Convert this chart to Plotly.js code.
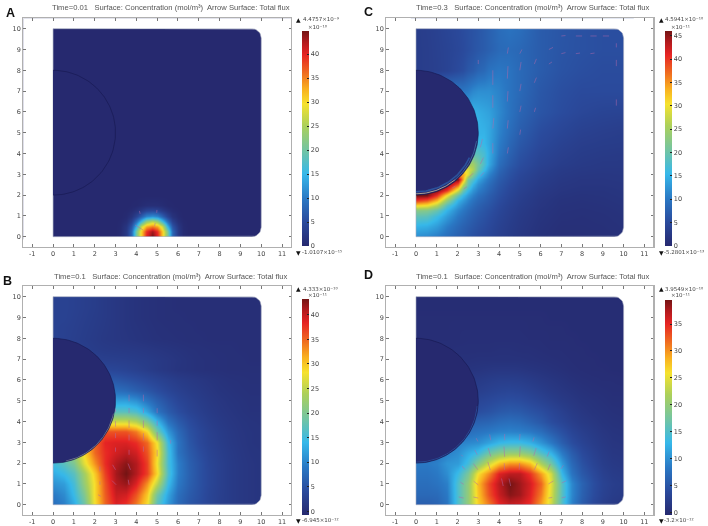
<!DOCTYPE html>
<html><head><meta charset="utf-8">
<script src="https://cdn.plot.ly/plotly-3.0.1.min.js"></script>
<style>html,body{margin:0;padding:0;background:#fff}#g{width:708px;height:526px;filter:blur(0.35px)}</style>
</head><body><div id="g"></div>
<script>
// ---------- values ----------
const ticksX=[-1,0,1,2,3,4,5,6,7,8,9,10,11];
const ticksY=[0,1,2,3,4,5,6,7,8,9,10];
const grid05=[0,.5,1,1.5,2,2.5,3,3.5,4,4.5,5,5.5,6,6.5,7,7.5,8,8.5,9,9.5,10];

const titles={A:'Time=0.01',B:'Time=0.1',C:'Time=0.3',D:'Time=0.1'};
const maxLabels={A:'4.4757×10⁻⁹',B:'4.333×10⁻¹⁰',C:'4.5941×10⁻¹⁰',D:'3.9549×10⁻¹⁰'};
const minLabels={A:'-1.0107×10⁻¹⁵',B:'-6.945×10⁻¹²',C:'-5.2801×10⁻¹³',D:'-3.2×10⁻¹²'};
const expLabels={A:'×10⁻¹⁰',B:'×10⁻¹¹',C:'×10⁻¹¹',D:'×10⁻¹¹'};

const xA=[0,3,3.25,3.5,3.75,4,4.25,4.5,4.75,5,5.25,5.5,5.75,6,6.25,6.5,10];
const yA=[0,.25,.5,.75,1,1.25,1.5,2,10];
const zA=[
[0,0,.5,2.5,8,21,31,40,44.7,40,31,21,8,2.5,.5,0,0],
[0,0,.5,2.5,8,21,31,39,43,39,31,21,8,2.5,.5,0,0],
[0,0,.4,2,6,15,27,33,35,33,27,15,6,2,.4,0,0],
[0,0,.2,1,3.5,9,16,23,26,23,16,9,3.5,1,.2,0,0],
[0,0,0,.4,1.5,4,7.5,11,12,11,7.5,4,1.5,.4,0,0,0],
[0,0,0,.1,.5,1.3,2.5,4,4.5,4,2.5,1.3,.5,.1,0,0,0],
[0,0,0,0,.1,.2,.6,.9,1,.9,.6,.2,.1,0,0,0,0],
[0,0,0,0,0,0,0,0,0,0,0,0,0,0,0,0,0],
[0,0,0,0,0,0,0,0,0,0,0,0,0,0,0,0,0]];

const zB=[
[8,9.5,13,18.5,28.6,35,39,37.7,34,28.6,17,11.5,7.5,5.5,4.5,3.5,2.5,2,1.5,1.2,1],
[9,10.5,14.5,20,29,35.5,40,39.5,36,30,19,12.5,8,6,4.8,3.5,2.6,2,1.5,1.2,1],
[11,12,15.5,22,29,36,41,42,39,33,25,14.5,9,6.5,5,3.7,2.7,2,1.5,1.2,1],
[13,14.5,17,23,30,37,41.5,43.3,41,37,29,16,9.5,6.7,5,3.7,2.7,2,1.5,1.2,1],
[15,17,20,27,33,38,41,42.5,41,37,28,15.5,9.5,6.5,5,3.6,2.7,2,1.5,1.2,1],
[17,19,23,29,35,38,39.5,40.5,39.5,36,29,15.5,8.5,6,4.5,3.3,2.5,1.9,1.4,1.1,1],
[17,19,24,30,35,38.5,39,39,38,35,28,14.5,8.5,5.5,4,3,2.3,1.7,1.3,1,.9],
[30,30,30,30,32,36,36,36,34,29,19,11.5,7.5,5,3.8,2.8,2.1,1.6,1.2,1,.9],
[24,24,24,24,24,26,26,26,24.5,20,14,8.5,6,4.3,3.2,2.4,1.8,1.4,1.1,.9,.8],
[16,16,16,16,16,16.5,17,17,16,12.5,8.5,6,4.5,3.3,2.6,2,1.5,1.2,.9,.7,.7],
[11,11,11,11,11,11.5,12,12,11,8.5,6.5,4.8,3.6,2.8,2.2,1.7,1.3,1,.8,.6,.6],
[7,7,7,7,7.5,7.5,8,7.5,6.5,5.5,4.5,3.5,2.8,2.2,1.8,1.4,1,.8,.6,.5,.5],
[5.5,5.5,5.5,5.5,5.5,5.5,5.5,5,4.5,3.8,3.2,2.6,2.1,1.7,1.4,1.1,.8,.6,.5,.4,.4],
[3.6,3.6,3.6,3.6,3.6,3.6,3.5,3.2,2.8,2.3,1.8,1.4,1,.8,.6,.5,.4,.3,.3,.3,.3],
[3,3,3,3,2.8,2.6,2.5,2.4,2.2,2,1.7,1.4,1.1,.8,.6,.5,.4,.3,.3,.2,.2],
[3,2.9,2.7,2.4,2.1,1.9,1.8,1.7,1.6,1.4,1.2,1,.8,.6,.5,.4,.3,.3,.2,.2,.2],
[3,2.8,2.5,2.2,1.9,1.6,1.4,1.2,1,.8,.6,.5,.4,.3,.3,.2,.2,.2,.2,.2,.2],
[3,2.8,2.6,2.3,2,1.7,1.4,1.1,.9,.7,.5,.4,.3,.3,.2,.2,.2,.2,.2,.2,.2],
[3,3,2.7,2.4,2.1,1.8,1.4,1.1,.8,.6,.4,.3,.3,.2,.2,.2,.2,.2,.2,.2,.2],
[3,3,2.8,2.5,2.2,1.8,1.4,1.1,.8,.6,.4,.3,.2,.2,.2,.2,.2,.2,.2,.2,.2],
[3,3,2.8,2.5,2.2,1.8,1.4,1.1,.8,.6,.4,.3,.2,.2,.2,.2,.2,.2,.2,.2,.2]];

const xC=[0,.5,1,1.5,2,2.25,2.5,2.75,3,3.25,3.5,4,4.5,5,6,7,8,9,10];
const yC=[0,.5,1,1.25,1.5,1.75,2,2.25,2.5,2.75,3,3.25,3.5,4,4.5,5,5.5,6,7,8,9,10];
const zC=[
[12,11.5,10.5,9,7.5,7,6.3,5.7,5.2,4.8,4.4,3.5,2.8,2.2,1.3,.9,.9,1,1.2],
[15,14.5,13,10.5,8.5,7.7,7,6.4,5.8,5.3,4.8,3.8,3,2.4,1.5,1,1,1.1,1.3],
[19,18.5,16,13,10,9,8,7.2,6.5,5.9,5.3,4.2,3.3,2.6,1.7,1.2,1.1,1.2,1.4],
[22.5,22,19.5,15,11.2,10,8.8,7.8,7,6.3,5.7,4.5,3.5,2.8,1.8,1.3,1.2,1.3,1.5],
[31,30,26,18,13,11.2,9.8,8.6,7.6,6.8,6.2,4.8,3.7,3,2,1.4,1.3,1.4,1.6],
[40,38,33,23.5,15,13,11,9.5,8.3,7.5,6.7,5.2,4,3.2,2.1,1.5,1.4,1.5,1.7],
[46,46,40,30,19.5,15.5,12.8,10.8,9.2,8.2,7.2,5.6,4.3,3.4,2.3,1.7,1.5,1.6,1.8],
[46,46,46,40,28,20,15.5,12.5,10.5,9.2,8,6,4.6,3.7,2.5,1.9,1.7,1.7,1.9],
[46,46,46,46,38,27,19.5,15,12,10.2,8.8,6.5,5,4,2.8,2.1,1.9,1.9,2],
[46,46,46,46,46,34,21,18,14,11.5,9.7,7,5.4,4.3,3,2.3,2,2,2.1],
[34,34,34,34,34,34,29,22,17,13.5,11,7.6,5.8,4.6,3.2,2.5,2.2,2.1,2.2],
[29,29,29,29,29,29,29,26,20,16,12.5,8.3,6.2,5,3.5,2.7,2.4,2.3,2.3],
[25,25,25,25,25,25,25,25,21,17.5,14,9,6.8,5.4,3.8,3,2.6,2.4,2.4],
[18.5,18.5,18.5,18.5,18.5,18.5,18.5,18.5,18.5,17,14.5,10,7.6,6,4.3,3.4,2.9,2.7,2.6],
[16,16,16,16,16,16,16,16,16,15.5,14,10.5,8.2,6.6,4.8,3.8,3.2,3,2.9],
[15,15,15,15,15,15,15,15,15,15,14,11,8.8,7.2,5.2,4.3,3.6,3.3,3.1],
[15,15,15,15,15,15,15,15,15,14.5,14,11.2,9.2,7.6,5.7,4.7,4,3.7,3.5],
[14.5,14.5,14.5,14.5,14.5,14.5,14.5,15,14.5,14,13.5,11.5,9.5,8,6.2,5.2,4.5,4.1,4],
[10,10,10,10,10,10,10.5,11.5,12,12,12,11,9.5,8.5,6.5,5.5,5,5,5],
[3,3.2,3.5,4,5,5.5,6.5,7,8,8.5,9.5,10,9.5,8.5,7,6,5.5,5.2,5.2],
[3,3.2,3.6,4,4.6,5,5.5,6,6.5,7,7.5,8.5,8.7,8.3,7,6.2,5.8,5.5,5.5],
[3,3.3,3.7,4.2,4.8,5.2,5.6,6,6.4,7,7.5,8.8,9.5,9,7,6.3,5.8,5.5,5.5]];

const zD=[
[6,6,6.5,8,15,20,27,31,35,36.5,36,34.5,29.5,24,15,9,5.8,3.8,2.6,1.9,1.6],
[7,7,7.2,8.5,15,20,27.5,33,36.5,38.8,38,35.5,31,24.5,15.5,9.5,6.3,4.3,3,2.3,2],
[7.5,7.5,8,9,15,20,28,33.5,37,39.5,38,36,32,25,15.5,9.5,6.5,4.5,3.2,2.5,2.2],
[8,8,8.5,10,13.5,18,26,30.5,35.5,37,37,34.4,29.5,24,13,8,5.5,4,2.8,2.2,2],
[8.5,8.5,9,10.5,11,14,19,24,28,30,30,28,22,17.5,11,7,4.8,3.4,2.4,1.9,1.7],
[7,7.5,8,9,10,12,13.5,17,19,20,20,18.5,15,12.5,8.5,5.8,4,2.9,2.1,1.6,1.5],
[6,6.5,7,8,9,9.5,10,11.5,13,13.5,13.5,12.5,10.5,8.5,6,4.3,3.2,2.4,1.8,1.4,1.3],
[5,5.5,6,6.5,7,7.5,8,8.5,9,9.2,9,8.5,7.5,6,4.6,3.4,2.6,2,1.5,1.2,1.1],
[4,4.5,5,5.5,5.8,6.1,6.3,6.6,7.2,7.5,7.2,6.4,5.4,4.3,3.4,2.6,2,1.6,1.2,1,.9],
[3,3,3.5,3.8,4,4.2,4.4,4.9,5.5,5.8,5.6,5,4.4,3.6,2.8,2.1,1.6,1.2,1,.8,.7],
[2.5,2.6,2.8,3,3.1,3.2,3.5,3.9,4.3,4.5,4.3,3.8,3.2,2.6,2,1.6,1.2,1,.8,.6,.6],
[1.8,1.8,1.9,2,2.1,2.3,2.6,3,3.3,3.5,3.3,2.9,2.4,1.9,1.5,1.2,.9,.7,.6,.5,.5],
[1.2,1.3,1.4,1.5,1.6,1.8,2,2.3,2.5,2.5,2.4,2.1,1.7,1.4,1.1,.8,.6,.5,.4,.4,.3],
[.9,.9,1,1,1.1,1.2,1.3,1.5,1.6,1.6,1.5,1.3,1.1,.9,.7,.5,.4,.3,.3,.2,.2],
[.6,.6,.7,.7,.8,.8,.9,.9,.9,.9,.9,.8,.7,.6,.5,.4,.3,.3,.2,.2,.2],
[.5,.5,.5,.5,.6,.6,.6,.6,.7,.7,.6,.6,.5,.4,.4,.3,.3,.2,.2,.2,.2],
[.4,.4,.4,.4,.4,.5,.5,.5,.5,.5,.5,.4,.4,.3,.3,.3,.2,.2,.2,.2,.2],
[.3,.3,.3,.3,.4,.4,.4,.4,.4,.4,.4,.3,.3,.3,.3,.2,.2,.2,.2,.2,.2],
[.3,.3,.3,.3,.3,.3,.3,.3,.3,.3,.3,.3,.3,.2,.2,.2,.2,.2,.2,.2,.2],
[.2,.2,.2,.2,.2,.2,.2,.2,.2,.2,.2,.2,.2,.2,.2,.2,.2,.2,.2,.2,.2],
[.2,.2,.2,.2,.2,.2,.2,.2,.2,.2,.2,.2,.2,.2,.2,.2,.2,.2,.2,.2,.2]];

const zRange={A:[0,44.8],B:[-.7,43.3],C:[-.05,46],D:[-.32,39.5]};
const barTicks={A:[0,5,10,15,20,25,30,35,40],B:[0,5,10,15,20,25,30,35,40],C:[0,5,10,15,20,25,30,35,40,45],D:[0,5,10,15,20,25,30,35]};

// flux arrows: tail x, tail y, component u, component v
const arrA={x:[4.33,4.87,4.18,4.98],y:[.32,.5,1.1,1.15],u:[-.39,.04,-.03,.01],v:[.24,.16,.14,.14]};
const arrB={x:[3.65,3.65,3.65,3.65,3.65,3.72,3.65,4.34,4.34,4.34,4.34,4.34,5,5,5,5,3,3,3,3,3,3.03,5.65,2.25,2.25,2.3],
 y:[4.97,4.4,3.69,3.09,2.4,1.68,.96,4.97,4.4,3.69,3.09,2.55,4.4,3.8,3.09,2.32,4.45,3.75,3.2,2.55,1.68,.96,2.93,1.6,.96,.4],
 u:[0,0,0,0,0,-.12,-.04,0,0,0,0,0,0,0,0,0,0,0,0,0,-.14,-.2,0,0,0,-.14],
 v:[.32,.25,.36,.28,.24,.3,.24,.32,.25,.36,.35,.25,.24,.24,.4,.32,.16,.27,.24,.2,.24,.2,.18,.24,.16,.08]};
const arrC={x:[3.7,3.7,3.7,4.4,4.4,4.4,4.4,5,5,5,5,5.7,5.7,5.7,6.4,6.4,7,7,7.7,7.7,8.4,8.4,9,9.65,9.65,9.65,3.1,3.1,3.1,2.55,2.3,1.75,4.4,5,3,3.7],
 y:[7.3,6.2,4,7.6,6.5,5.2,4,8,7,6,4.9,8.3,7.4,6,9,8.3,9.65,8.8,9.65,8.8,9.65,8.8,9.65,8.2,6.3,9.1,4.3,3.5,2.9,2.85,2.3,2.35,8.8,8.8,8.3,5.2],
 u:[0,0,0,.03,.03,.04,.05,.06,.06,.06,.04,.1,.1,.06,.2,.15,.2,.2,.3,.2,.3,.2,.3,0,0,0,.1,.15,.18,.2,.15,.15,.05,.1,0,.05],
 v:[.7,.6,.5,.6,.5,.4,.3,.4,.35,.3,.25,.25,.25,.2,.1,.1,.02,.05,0,.03,0,.03,0,.3,.3,.2,.4,.3,.2,.2,.1,.08,.3,.2,.2,.5]};
const arrD={x:[2.98,3.6,4.27,4.99,5.63,2.26,2.95,3.6,4.27,4.99,5.67,6.32,2.35,2.98,3.58,4.27,4.97,5.7,6.35,6.98,2.3,3,4.2,4.56,6.38,7.02,2.3,3,6.38,7.02],
 y:[3.04,3.1,3.1,3.1,3.04,2.32,2.4,2.32,2.3,2.3,2.35,2.32,1.7,1.68,1.66,1.68,1.68,1.68,1.66,1.72,.98,.95,.9,.9,1,1.05,.32,.32,.32,.33],
 u:[-.08,-.05,0,.02,.06,-.08,-.12,-.12,-.03,.03,.12,.1,-.13,-.22,-.12,-.02,.02,.14,.12,.12,-.16,-.22,-.08,-.08,.24,.22,-.24,-.24,.18,.2],
 v:[.16,.28,.3,.3,.2,.08,.24,.4,.5,.5,.38,.24,.16,.3,.4,.32,.32,.32,.3,.18,.1,.18,.36,.36,.14,.1,.05,.05,.03,.05]};

// thin bright rims just inside the circle: radius, start and end angle, colour, width, opacity
const rims={A:[],B:[[2.97,-78,-12,'#c4ceb4',.6,.8]],C:[[2.84,-90,-25,'#2f6cb8',1.6,.6],[2.94,-90,-50,'#efe6a6',.7,.9],[2.94,-50,-8,'#5cb8d0',.7,.6]],D:[[2.96,-90,-5,'#2c5ca8',.8,.8]]};

// ---------- layout geometry ----------
const W=708,H=526;
const panels=[
 {k:'A',ax:'',x:[23.3,291],y:[18.3,246.7],r:[-.48,10.5],bar:[302.3,31.3,246],tx:171,ty:7.5,lx:10,ly:12.5,z:zA,gx:xA,gy:yA,arr:arrA,topY:19,expY:26.5,botY:252},
 {k:'B',ax:'2',x:[23.3,291],y:[286.3,514.7],r:[-.48,10.5],bar:[302.3,299,514.7],tx:171,ty:276,lx:7,ly:280.5,z:zB,gx:grid05,gy:grid05,arr:arrB,topY:288.5,expY:294.5,botY:520},
 {k:'C',ax:'3',x:[386.3,653.3],y:[18.3,246.7],r:[-.48,10.5],bar:[664.7,31.3,246],tx:533,ty:7.5,lx:368,ly:12,z:zC,gx:xC,gy:yC,arr:arrC,topY:19,expY:26.5,botY:252},
 {k:'D',ax:'4',x:[386.3,653.3],y:[286.3,514.7],r:[-.48,10.5],bar:[664.7,299.7,514.7],tx:533,ty:276,lx:368.5,ly:274.5,z:zD,gx:grid05,gy:grid05,arr:arrD,topY:288.5,expY:294.5,botY:520}
];
const scale=[[0,'#26296f'],[.11,'#2a4a9c'],[.22,'#2a78c4'],[.335,'#36b8ea'],[.44,'#70c4a6'],[.56,'#acd05a'],[.66,'#f6e22e'],[.73,'#f9b020'],[.8,'#f07020'],[.89,'#e62424'],[.95,'#b01a1e'],[1,'#741414']];
const navy='#26296f';
const tf={family:'DejaVu Sans',size:6.5,color:'#444'};

function arc(cx,cy,r,a0,a1,n){const o=[];for(let i=0;i<=n;i++){const t=(a0+(a1-a0)*i/n)*Math.PI/180;o.push([cx+r*Math.cos(t),cy+r*Math.sin(t)]);}return o;}
const R=.45;
const domain=[[0,0],...arc(10-R,R,R,-90,0,10),...arc(10-R,10-R,R,0,90,10),[0,10],[0,0]];
const outer=[[0,0],[-5,0],[-5,-5],[15,-5],[15,15],[-5,15],[-5,0],[0,0]];
const maskPts=[...outer,...domain.slice().reverse()];
const half=arc(0,5,3,-90,90,90);

const data=[],annotations=[],layout={width:W,height:H,showlegend:false,paper_bgcolor:'#fff',plot_bgcolor:'#fff',margin:{l:0,r:0,t:0,b:0,autoexpand:false},annotations};
for(const p of panels){
 const xa='x'+p.ax,ya='y'+p.ax;
 const [z0,z1]=zRange[p.k];
 data.push({type:'heatmap',x:p.gx,y:p.gy,z:p.z,xaxis:xa,yaxis:ya,zmin:z0,zmax:z1,zsmooth:'best',colorscale:scale,hoverinfo:'skip',
  colorbar:{x:p.bar[0]/W,xanchor:'left',xpad:0,y:1-p.bar[2]/H,yanchor:'bottom',ypad:0,len:p.bar[2]-p.bar[1],lenmode:'pixels',thickness:7,thicknessmode:'pixels',outlinewidth:0,borderwidth:0,
   tickmode:'array',tickvals:barTicks[p.k],ticktext:barTicks[p.k].map(String),ticks:'inside',ticklen:2,tickcolor:'#222',tickwidth:1,tickfont:tf}});
 data.push({type:'scatter',mode:'lines',x:maskPts.map(q=>q[0]),y:maskPts.map(q=>q[1]),xaxis:xa,yaxis:ya,fill:'toself',fillcolor:'#fff',line:{width:0},hoverinfo:'skip'});
 data.push({type:'scatter',mode:'lines',x:domain.map(q=>q[0]),y:domain.map(q=>q[1]),xaxis:xa,yaxis:ya,line:{width:.6,color:'#a4a9bf'},hoverinfo:'skip'});
 data.push({type:'scatter',mode:'lines',x:half.map(q=>q[0]),y:half.map(q=>q[1]),xaxis:xa,yaxis:ya,fill:'toself',fillcolor:navy,line:{width:0},hoverinfo:'skip'});
 for(const [r,a0,a1,c,w,o] of rims[p.k]){const pts=arc(0,5,r,a0,a1,40);
  data.push({type:'scatter',mode:'lines',x:pts.map(q=>q[0]),y:pts.map(q=>q[1]),xaxis:xa,yaxis:ya,line:{width:w,color:c},opacity:o,hoverinfo:'skip'});}
 data.push({type:'scatter',mode:'lines',x:half.map(q=>q[0]),y:half.map(q=>q[1]),xaxis:xa,yaxis:ya,line:{width:.6,color:'#15184f'},hoverinfo:'skip'});
 const ax=[],ay=[];
 p.arr.x.forEach((v,i)=>{ax.push(v,v+p.arr.u[i],null);ay.push(p.arr.y[i],p.arr.y[i]+p.arr.v[i],null);});
 data.push({type:'scatter',mode:'lines',x:ax,y:ay,xaxis:xa,yaxis:ya,line:{width:.75,color:'#b468aa'},opacity:.65,hoverinfo:'skip'});

 const common={tickmode:'array',ticks:'inside',ticklen:2.5,tickcolor:'#777',tickwidth:1,tickfont:tf,showgrid:false,zeroline:false,showline:true,linecolor:'#b0b0b0',linewidth:1.2,mirror:'ticks'};
 layout['xaxis'+p.ax]={...common,domain:[p.x[0]/W,p.x[1]/W],range:[-1.43,11.43],anchor:ya,tickvals:ticksX,ticktext:ticksX.map(String)};
 layout['yaxis'+p.ax]={...common,domain:[1-p.y[1]/H,1-p.y[0]/H],range:p.r,anchor:xa,tickvals:ticksY,ticktext:ticksY.map(String)};

 const note=(px,py,text,font,xanchor)=>annotations.push({xref:'paper',yref:'paper',x:px/W,y:1-py/H,text,showarrow:false,xanchor:xanchor||'center',yanchor:'middle',font,borderpad:0,borderwidth:0});
 note(p.tx,p.ty,titles[p.k]+'&nbsp;&nbsp; Surface: Concentration (mol/m³)&nbsp; Arrow Surface: Total flux',{family:'Liberation Sans',size:7.65,color:'#555'});
 note(p.lx,p.ly,p.k,{family:'Liberation Sans',size:12.5,color:'#111',weight:700});
 const bx=p.bar[0];
 note(bx-6,p.topY,'▲',{family:'DejaVu Sans',size:6,color:'#111'},'left');
 note(bx+.5,p.topY,maxLabels[p.k],{family:'DejaVu Sans',size:5.5,color:'#444'},'left');
 note(bx+6,p.expY,expLabels[p.k],{family:'DejaVu Sans',size:5.5,color:'#444'},'left');
 note(bx-6,p.botY,'▼',{family:'DejaVu Sans',size:6,color:'#111'},'left');
 note(bx-.5,p.botY,minLabels[p.k],{family:'DejaVu Sans',size:5.5,color:'#444'},'left');
}
Plotly.newPlot('g',data,layout,{displayModeBar:false,staticPlot:true});
</script></body></html>
